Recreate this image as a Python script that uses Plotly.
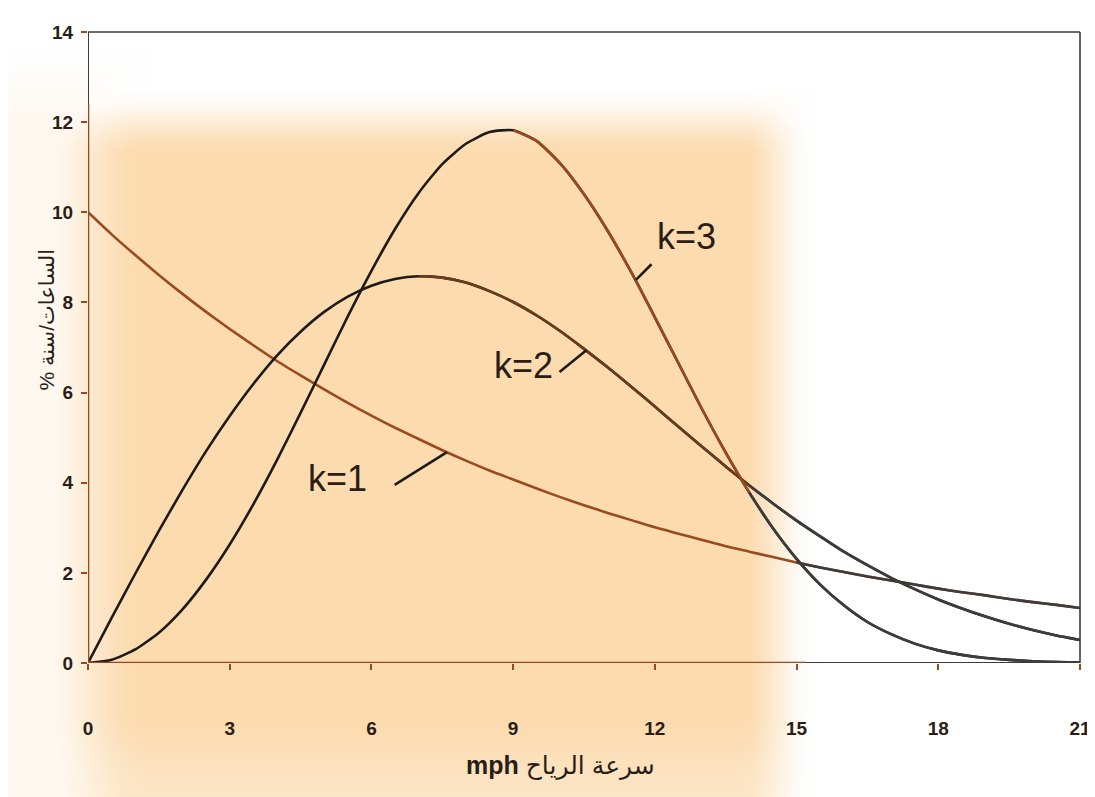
import base64, struct, zlib
import numpy as np
import plotly.graph_objects as go

# ---------------- data ----------------
speed_mph = [i * 0.5 for i in range(43)]  # 0 .. 21 mph
k1_pct = [10.00, 9.51, 9.05, 8.61, 8.19, 7.79, 7.41, 7.05, 6.70, 6.38, 6.07, 5.77, 5.49, 5.22,
          4.97, 4.72, 4.49, 4.27, 4.07, 3.87, 3.68, 3.50, 3.33, 3.17, 3.01, 2.87, 2.73, 2.59,
          2.47, 2.35, 2.23, 2.12, 2.02, 1.92, 1.83, 1.74, 1.65, 1.57, 1.50, 1.42, 1.35, 1.29, 1.22]
k2_pct = [0.00, 1.00, 1.98, 2.93, 3.84, 4.70, 5.48, 6.19, 6.82, 7.35, 7.79, 8.13, 8.37, 8.52,
          8.58, 8.55, 8.44, 8.25, 8.01, 7.71, 7.36, 6.97, 6.56, 6.13, 5.69, 5.24, 4.80, 4.36,
          3.94, 3.54, 3.16, 2.81, 2.47, 2.17, 1.89, 1.64, 1.41, 1.21, 1.03, 0.87, 0.73, 0.61, 0.51]
k3_pct = [0.00, 0.07, 0.30, 0.67, 1.19, 1.85, 2.63, 3.52, 4.50, 5.55, 6.62, 7.69, 8.70, 9.63,
          10.43, 11.07, 11.52, 11.78, 11.82, 11.58, 11.08, 10.40, 9.59, 8.67, 7.67, 6.65, 5.63, 4.67,
          3.78, 2.99, 2.31, 1.74, 1.28, 0.91, 0.64, 0.43, 0.28, 0.18, 0.11, 0.07, 0.04, 0.02, 0.01]
x_ticks = [0, 3, 6, 9, 12, 15, 18, 21]
y_ticks = [0, 2, 4, 6, 8, 10, 12, 14]
series_labels = ["k=1", "k=2", "k=3"]

# ---------------- style ----------------
W, H = 1095, 797
L, R, T, B = 80, 1072, 24, 655
BROWN = "#9a4a1f"
DKBROWN = "#6e3a1e"
INK = "#1e1a18"
GRAY = "#3c3c3c"
TXT = "#2a1d15"
FONT = "Liberation Sans, Arial, DejaVu Sans, sans-serif"


def make_bg():
    """Tint of the photographed page (decoration only)."""
    s = 5
    w, h = W // s + 1, H // s + 1
    X, Y = np.meshgrid((np.arange(w) + 0.5) * s, (np.arange(h) + 0.5) * s)

    def ss(e0, e1, v):
        t = np.clip((v - e0) / (e1 - e0), 0, 1)
        return t * t * (3 - 2 * t)

    t = ss(15, 140, X) * (1 - ss(735, 810, X)) * ss(80, 150, Y)
    t = t * (1 - 0.3 * ss(700, 797, Y))
    cream = 0.18 * (1 - ss(60, 140, X)) * ss(40, 120, Y) * (1 - ss(735, 810, X))
    t = np.clip(np.maximum(t, cream), 0, 1)
    orange = np.array([252, 219, 174], float)
    white = np.array([255, 255, 255], float)
    img = (white * (1 - t[..., None]) + orange * t[..., None]).astype(np.uint8)

    def chunk(tag, data):
        return struct.pack(">I", len(data)) + tag + data + struct.pack(">I", zlib.crc32(tag + data) & 0xffffffff)

    raw = b"".join(b"\x00" + img[r].tobytes() for r in range(h))
    png = b"\x89PNG\r\n\x1a\n" + chunk(b"IHDR", struct.pack(">IIBBBBB", w, h, 8, 2, 0, 0, 0)) \
        + chunk(b"IDAT", zlib.compress(raw, 9)) + chunk(b"IEND", b"")
    return "data:image/png;base64," + base64.b64encode(png).decode()


fig = go.Figure()


def seg(y, a, b, color):
    fig.add_trace(go.Scatter(
        x=speed_mph[a:b + 1], y=y[a:b + 1], mode="lines",
        line=dict(color=color, width=2.6, shape="spline", smoothing=0.6),
        hoverinfo="skip", showlegend=False))


# each curve: full smooth stroke first, then the differently inked stretches on top
seg(k1_pct, 0, 42, BROWN)
seg(k1_pct, 30, 42, GRAY)

seg(k2_pct, 0, 42, INK)
seg(k2_pct, 14, 28, DKBROWN)
seg(k2_pct, 28, 42, GRAY)

seg(k3_pct, 0, 42, INK)
seg(k3_pct, 18, 28, BROWN)
seg(k3_pct, 28, 42, GRAY)

pw, ph = R - L, B - T

annotations = []
# curve labels
for (x, y, txt) in [(5.29, 4.10, series_labels[0]), (9.21, 6.61, series_labels[1]), (12.66, 9.47, series_labels[2])]:
    annotations.append(dict(x=x, y=y, xref="x", yref="y", text=txt, showarrow=False,
                            font=dict(family=FONT, size=36, color=TXT)))
# leader lines (start -> point on curve)
for (x0, y0, x1, y1) in [(6.46, 3.93, 7.6, 4.68), (9.95, 6.43, 10.55, 6.94), (11.96, 8.88, 11.6, 8.5)]:
    annotations.append(dict(x=x1, y=y1, ax=x0, ay=y0, xref="x", yref="y", axref="x", ayref="y",
                            text="", showarrow=True, arrowhead=0, arrowwidth=2.6, arrowcolor=INK))

# axis titles
annotations.append(dict(
    x=(552 - L) / pw, y=(B - 774) / ph, xref="paper", yref="paper",
    text="<b>mph</b> سرعة الرياح", showarrow=False,
    font=dict(family=FONT, size=25, color=TXT)))
annotations.append(dict(
    x=(24 - L) / pw, y=(B - 312) / ph, xref="paper", yref="paper",
    text="% الساعات/سنة", textangle=-90, showarrow=False,
    font=dict(family=FONT, size=21, color=TXT)))

# frame: brown where the page is tinted, dark gray elsewhere
shapes = [
    dict(type="line", xref="x", yref="y", x0=0, x1=0, y0=0, y1=12.4, line=dict(color=BROWN, width=2.6)),
    dict(type="line", xref="x", yref="y", x0=0, x1=0, y0=12.4, y1=14, line=dict(color=GRAY, width=2.0)),
    dict(type="line", xref="x", yref="y", x0=0, x1=15.2, y0=0, y1=0, line=dict(color=BROWN, width=2.6)),
    dict(type="line", xref="x", yref="y", x0=15.2, x1=21, y0=0, y1=0, line=dict(color=GRAY, width=2.2)),
    dict(type="line", xref="paper", yref="paper", x0=0, x1=1, y0=1, y1=1, line=dict(color=GRAY, width=1.6)),
    dict(type="line", xref="paper", yref="paper", x0=1, x1=1, y0=0, y1=1, line=dict(color=GRAY, width=1.6)),
]

fig.update_layout(
    width=W, height=H,
    margin=dict(l=L, r=W - R, t=T, b=H - B),
    paper_bgcolor="white", plot_bgcolor="rgba(0,0,0,0)",
    showlegend=False,
    annotations=annotations,
    shapes=shapes,
    images=[dict(source=make_bg(), xref="paper", yref="paper",
                 x=-L / pw, y=B / ph, sizex=W / pw, sizey=H / ph,
                 xanchor="left", yanchor="top", sizing="stretch", layer="below")],
)

fig.update_xaxes(
    range=[0, 21], tickvals=x_ticks, ticktext=[f"<b>{v}</b>" for v in x_ticks],
    showgrid=False, zeroline=False, showline=False,
    ticks="outside", ticklen=6, tickcolor=BROWN, tickwidth=1.5,
    ticklabelstandoff=42,
    tickfont=dict(family=FONT, size=19, color=TXT))
fig.update_yaxes(
    range=[0, 14], tickvals=y_ticks, ticktext=[f"<b>{v}</b>" for v in y_ticks],
    showgrid=False, zeroline=False, showline=False,
    ticks="outside", ticklen=6, tickcolor=BROWN, tickwidth=1.5,
    ticklabelstandoff=4,
    tickfont=dict(family=FONT, size=19, color=TXT))

fig.write_html("out.html")
